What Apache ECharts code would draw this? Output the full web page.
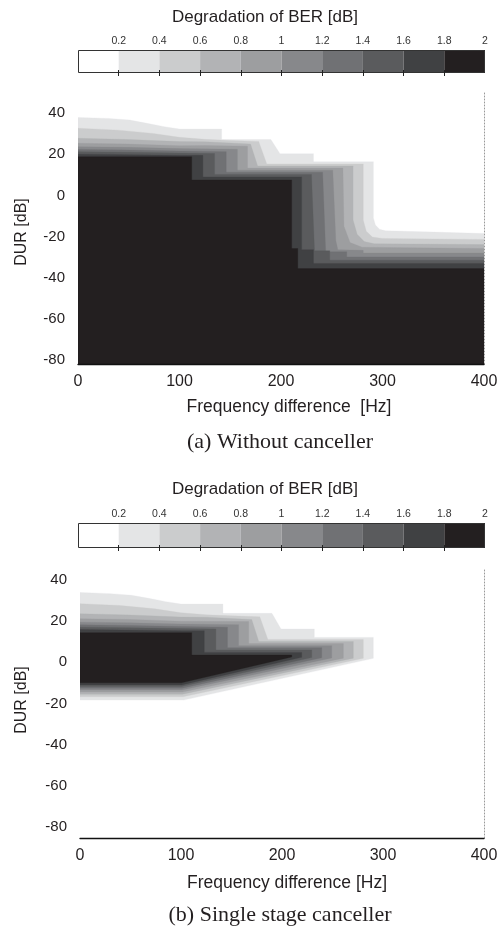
<!DOCTYPE html>
<html>
<head>
<meta charset="utf-8">
<script src="https://cdn.jsdelivr.net/npm/echarts@6/dist/echarts.min.js"></script>
<style>html,body{margin:0;padding:0;background:#fff}#c{width:502px;height:930px}</style>
</head>
<body>
<div id="c"></div>
<script>
// ---------- data ----------
const levelColors = ['#ffffff','#e4e5e6','#cbcccd','#b2b3b5','#9d9ea0','#87888b','#707174','#5a5b5d','#404143','#231f20'];
const colorbarEdges = [0,0.2,0.4,0.6,0.8,1,1.2,1.4,1.6,1.8,2];
const colorbarLabels = [0.2,0.4,0.6,0.8,1,1.2,1.4,1.6,1.8,2];
const yTickLabels = [-80,-60,-40,-20,0,20,40];
const xTickLabels = [0,100,200,300,400];

// (a) Without canceller: region with degradation > level lies below each boundary
const a_02 = [[0,38],[30,37.5],[51,36.7],[68,35.1],[85,33.5],[100,32.3],[141.5,32.3],[141.5,27.2],[190,27.2],[199,20.3],[232,20.3],[232,16.4],[291,16.4],[291,-11],[293,-14.5],[297,-16.5],[303,-17.3],[350,-17.9],[400,-18.6]];
const a_04 = [[0,32.7],[40,31.8],[74,30.2],[100,28.3],[125,27.3],[150,26.8],[178,26.3],[186,15.3],[281,15.3],[281,-12],[284,-17.5],[290,-20.3],[300,-21],[400,-21.5]];
const a_06 = [[0,27.8],[50,27.2],[100,26.2],[125,26.1],[150,25.5],[170,25],[177,14.3],[271,14.3],[271,-12],[275,-19],[282,-22.5],[292,-23.6],[400,-24]];
const a_08 = [[0,25.4],[50,25],[100,24.2],[125,24.3],[167,24],[167,13.3],[261,13.3],[262,-15],[268,-23],[280,-25.3],[400,-25.9]];
const a_10 = [[0,23.7],[50,23.4],[100,22.8],[157,22.5],[157,12.3],[251,12.3],[254,-22],[256,-26.5],[281,-26.8],[281,-28.1],[400,-28.1]];
const a_12 = [[0,22.4],[50,22.1],[100,21.6],[146,21.3],[146,11.3],[241,11.3],[244,-27.5],[264.7,-27.5],[264.7,-30],[400,-30]];
const a_14 = [[0,21.3],[50,21],[100,20.6],[134.5,20.4],[134.5,10.2],[230,10.2],[233,-27],[248,-27],[248,-31.6],[400,-31.6]];
const a_16 = [[0,20.1],[100,19.6],[123,19.5],[123,9],[220.3,9],[220.3,-26.5],[232,-26.5],[232,-33.2],[400,-33.2]];
const a_18 = [[0,18.8],[112,18.8],[112,7.5],[210.5,7.5],[210.5,-25.9],[216.5,-25.9],[216.5,-35.7],[400,-35.7]];

// (b) Single stage canceller: band between upper and lower boundary
const b_02_up = [[0,34],[30,33.4],[51,32.6],[68,31.1],[85,29.5],[100,28.3],[141.5,28.3],[141.5,23.8],[190,23.8],[199,16.2],[232,16.2],[232,12.1],[290.4,12.1],[290.4,1.9]];
const b_02_lo = [[0,-18.4],[102.5,-18.4],[290.4,1.9]];
const b_04_up = [[0,28.5],[40,27.6],[74,26],[100,24.1],[125,23.1],[150,22.6],[178,22.1],[186,11.1],[280.5,11.1],[280.5,1.9]];
const b_04_lo = [[0,-16.8],[102,-16.8],[280.5,1.9]];
const b_06_up = [[0,23.6],[50,23],[100,22],[125,21.9],[150,21.3],[170,20.8],[177,10.1],[270.6,10.1],[270.6,2]];
const b_06_lo = [[0,-15.5],[101.5,-15.5],[270.6,2]];
const b_08_up = [[0,21.2],[50,20.8],[100,20],[167,19.8],[167,9.1],[260.7,9.1],[260.7,2]];
const b_08_lo = [[0,-14.5],[101.5,-14.5],[260.7,2]];
const b_10_up = [[0,19.5],[50,19.2],[100,18.6],[157,18.3],[157,8.1],[249.2,8.1],[249.2,2.1]];
const b_10_lo = [[0,-13.5],[101,-13.5],[249.2,2.1]];
const b_12_up = [[0,18.2],[50,17.9],[100,17.4],[146,17.1],[146,7.1],[239.3,7.1],[239.3,2.2]];
const b_12_lo = [[0,-12.6],[101,-12.6],[239.3,2.2]];
const b_14_up = [[0,17.1],[50,16.8],[100,16.4],[134.5,16.2],[134.5,6],[229.4,6],[229.4,2.3]];
const b_14_lo = [[0,-11.8],[100.5,-11.8],[229.4,2.3]];
const b_16_up = [[0,15.9],[100,15.4],[123,15.3],[123,4.8],[219.5,4.8],[219.5,2.4]];
const b_16_lo = [[0,-11],[100.5,-11],[219.5,2.4]];
const b_18_up = [[0,14.4],[110.6,14.4],[110.6,3.5],[209.6,3.5],[209.6,2.6]];
const b_18_lo = [[0,-10],[100.5,-10],[209.6,2.6]];

const boundsA = [a_02,a_04,a_06,a_08,a_10,a_12,a_14,a_16,a_18];
const bandsB = [[b_02_up,b_02_lo],[b_04_up,b_04_lo],[b_06_up,b_06_lo],[b_08_up,b_08_lo],[b_10_up,b_10_lo],[b_12_up,b_12_lo],[b_14_up,b_14_lo],[b_16_up,b_16_lo],[b_18_up,b_18_lo]];

// ---------- chart ----------
const SANS = '"Liberation Sans", Arial, sans-serif';
const SERIF = '"Liberation Serif", "Times New Roman", serif';
const INK = '#231f20';
const chart = echarts.init(document.getElementById('c'), null, {renderer:'canvas'});

function colorbarAxes(gi){
  return [
    {gridIndex:gi, type:'value', min:0, max:2, position:'top', z:10,
     axisLine:{show:false}, splitLine:{show:false},
     axisTick:{show:true, inside:true, length:3, customValues:colorbarEdges.slice(1,-1), lineStyle:{color:'#222'}},
     axisLabel:{customValues:colorbarLabels, fontSize:10.5, fontFamily:SANS, color:'#333', margin:3}},
    {gridIndex:gi, type:'value', min:0, max:2, position:'bottom', z:10,
     axisLine:{show:false}, splitLine:{show:false},
     axisTick:{show:true, inside:true, length:3, customValues:colorbarEdges.slice(1,-1), lineStyle:{color:'#222'}},
     axisLabel:{show:false}}
  ];
}
function plotX(gi){
  return {gridIndex:gi, type:'value', min:0, max:400, interval:100, z:10,
    axisLine:{show:true, onZero:false, lineStyle:{color:'#111', width:1.3}}, axisTick:{show:false}, splitLine:{show:false},
    axisLabel:{customValues:xTickLabels, fontSize:16, fontFamily:SANS, color:INK, margin:10}};
}
function plotY(gi, lo, hi){
  return [
    {gridIndex:gi, type:'value', min:lo, max:hi, position:'left',
     axisLine:{show:false, onZero:false}, axisTick:{show:false}, splitLine:{show:false},
     axisLabel:{customValues:yTickLabels, fontSize:15, fontFamily:SANS, color:INK, margin:13}},
    {gridIndex:gi, type:'value', min:lo, max:hi, position:'right', z:10,
     axisLine:{show:true, onZero:false, lineStyle:{color:'#999', type:[1,2], width:1}}, axisTick:{show:false}, splitLine:{show:false},
     axisLabel:{show:false}}
  ];
}

const series = [];
function colorbarSeries(xi, yi){
  const cells = [];
  for (let i=0;i<10;i++) cells.push([colorbarEdges[i], colorbarEdges[i+1], i]);
  series.push({type:'custom', xAxisIndex:xi, yAxisIndex:yi, data:cells, silent:true,
    renderItem:function(params, api){
      const p0 = api.coord([api.value(0), 1]);
      const p1 = api.coord([api.value(1), 0]);
      return {type:'rect', shape:{x:p0[0], y:p0[1], width:p1[0]-p0[0], height:p1[1]-p0[1]},
        style:{fill:levelColors[api.value(2)], stroke:null}};
    }});
  series.push({type:'custom', xAxisIndex:xi, yAxisIndex:yi, data:[[0,0,2,1]], silent:true, z:5,
    renderItem:function(params, api){
      const p0 = api.coord([api.value(0), api.value(3)]);
      const p1 = api.coord([api.value(2), api.value(1)]);
      return {type:'rect', shape:{x:p0[0]+0.5, y:p0[1]+0.5, width:p1[0]-p0[0]-1, height:p1[1]-p0[1]-1},
        style:{fill:null, stroke:'#333', lineWidth:1}};
    }});
}
colorbarSeries(0, 0);
colorbarSeries(3, 4);

// (a) areas under each boundary
boundsA.forEach(function(b, k){
  series.push({type:'custom', xAxisIndex:2, yAxisIndex:2, data:b, silent:true, clip:true,
    renderItem:function(params, api){
      if (params.dataIndex !== 0) return;
      const pts = b.map(function(p){ return api.coord(p); });
      const bottom = params.coordSys.y + params.coordSys.height;
      pts.push([pts[pts.length-1][0], bottom]);
      pts.push([pts[0][0], bottom]);
      return {type:'polygon', shape:{points:pts}, style:{fill:levelColors[k+1], stroke:levelColors[k+1], lineWidth:0.3}};
    }});
});
// (b) bands
bandsB.forEach(function(bd, k){
  const poly = bd[0].concat(bd[1].slice().reverse());
  series.push({type:'custom', xAxisIndex:5, yAxisIndex:5, data:poly, silent:true, clip:true,
    renderItem:function(params, api){
      if (params.dataIndex !== 0) return;
      const pts = poly.map(function(p){ return api.coord(p); });
      return {type:'polygon', shape:{points:pts}, style:{fill:levelColors[k+1], stroke:levelColors[k+1], lineWidth:0.3}};
    }});
});

function txt(text, x, y, font, rot){
  return {type:'text', x:x, y:y, rotation:rot||0, silent:true,
    style:{text:text, font:font, fill:INK, textAlign:'center', textVerticalAlign:'middle'}};
}

const option = {
  animation:false,
  backgroundColor:'#fff',
  grid:[
    {left:78, right:17, top:50, height:23},
    {left:78, right:18, top:93, height:271},
    {left:78, right:17, top:523, height:25},
    {left:80, right:18, top:570, height:268}
  ],
  xAxis: [].concat(colorbarAxes(0), [plotX(1)], colorbarAxes(2), [plotX(3)]),
  yAxis: [
    {gridIndex:0, type:'value', min:0, max:1, show:false},
    {gridIndex:0, type:'value', min:0, max:1, show:false}
  ].concat(plotY(1, -82.2, 49.9), [{gridIndex:2, type:'value', min:0, max:1, show:false}], plotY(3, -85.5, 44.9)),
  series: series,
  graphic: [
    txt('Degradation of BER [dB]', 265, 17, '17px ' + SANS),
    txt('DUR [dB]', 22, 232, '16px ' + SANS, Math.PI/2),
    txt('Frequency difference  [Hz]', 289, 407, '17.5px ' + SANS),
    txt('(a) Without canceller', 280, 442, '22px ' + SERIF),
    txt('Degradation of BER [dB]', 265, 489, '17px ' + SANS),
    txt('DUR [dB]', 22, 700, '16px ' + SANS, Math.PI/2),
    txt('Frequency difference [Hz]', 287, 883, '17.5px ' + SANS),
    txt('(b) Single stage canceller', 280, 915, '22px ' + SERIF)
  ]
};
chart.setOption(option);
</script>
</body>
</html>
